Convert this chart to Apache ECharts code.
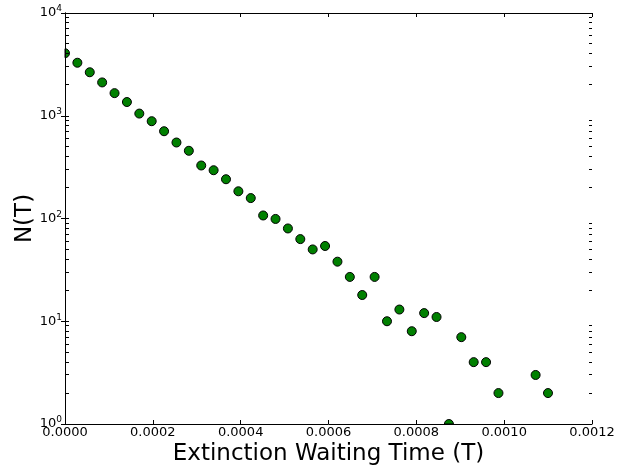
<!DOCTYPE html>
<html>
<head>
<meta charset="utf-8">
<script src="https://cdn.jsdelivr.net/npm/echarts@6/dist/echarts.min.js"></script>
<style>html,body{margin:0;padding:0;background:#fff}#c{width:618px;height:467px}</style>
</head>
<body>
<div id="c"></div>
<script>
// Extinction waiting times (T) and counts N(T)
var times = [0, 0.0000282, 0.0000564, 0.0000846, 0.0001128, 0.000141, 0.0001692, 0.0001974, 0.0002256, 0.0002538,
  0.000282, 0.0003102, 0.0003384, 0.0003666, 0.0003948, 0.000423, 0.0004512, 0.0004794, 0.0005076, 0.0005358,
  0.000564, 0.0005922, 0.0006204, 0.0006486, 0.0006768, 0.000705, 0.0007332, 0.0007614, 0.0007896, 0.0008178,
  0.000846, 0.0008742, 0.0009024, 0.0009306, 0.0009588, 0.000987, 0.0010716, 0.0010998];
var counts = [4060, 3280, 2650, 2110, 1660, 1360, 1050, 885, 707, 549,
  456, 328, 295, 241, 184, 158, 107, 99, 80, 63,
  50, 54, 38, 27, 18, 27, 10, 13, 8, 12,
  11, 1, 7, 4, 4, 2, 3, 2];
var xTicks = [0, 0.0002, 0.0004, 0.0006, 0.0008, 0.0010, 0.0012];
var yDecades = [1, 10, 100, 1000, 10000];

var FONT = 'DejaVu Sans';
var points = times.map(function (t, i) { return [t, counts[i]]; });
var minorVals = [];
for (var k = 0; k < 4; k++) for (var m = 2; m < 10; m++) minorVals.push([0, m * Math.pow(10, k)]);

var chart = echarts.init(document.getElementById('c'));
var tickStyle = { show: true, inside: true, length: 4, lineStyle: { color: '#000', width: 1 } };
chart.setOption({
  animation: false,
  grid: { left: 65, right: 26, top: 13, bottom: 43, containLabel: false, outerBoundsMode: 'none' },
  xAxis: [{
    type: 'value', min: 0, max: 0.0012, interval: 0.0002, position: 'bottom', z: 10,
    name: 'Extinction Waiting Time (T)', nameLocation: 'middle', nameGap: 19, nameMoveOverlap: false,
    nameTextStyle: { fontFamily: FONT, fontSize: 23, color: '#000' },
    axisLine: { show: true, lineStyle: { color: '#000', width: 1 } },
    axisTick: tickStyle,
    axisLabel: { fontFamily: FONT, fontSize: 13, color: '#000', margin: 2,
      formatter: function (v) { return v.toFixed(4); } },
    splitLine: { show: false }
  }, {
    type: 'value', min: 0, max: 0.0012, interval: 0.0002, position: 'top', z: 10,
    axisLine: { show: true, lineStyle: { color: '#000', width: 1 } },
    axisTick: tickStyle, axisLabel: { show: false }, splitLine: { show: false }
  }],
  yAxis: [{
    type: 'log', logBase: 10, min: 1, max: 10000, position: 'left', z: 10,
    name: 'N(T)', nameLocation: 'middle', nameGap: 28, nameMoveOverlap: false,
    nameTextStyle: { fontFamily: FONT, fontSize: 23, color: '#000' },
    axisLine: { show: true, lineStyle: { color: '#000', width: 1 } },
    axisTick: tickStyle,
    axisLabel: { margin: 3, fontFamily: FONT,
      formatter: function (v) { return '{b|10}{s|' + Math.round(Math.log10(v)) + '}'; },
      rich: {
        b: { fontFamily: FONT, fontSize: 13, color: '#000' },
        s: { fontFamily: FONT, fontSize: 9, color: '#000', padding: [0, 0, 8, 0] }
      } },
    splitLine: { show: false }
  }, {
    type: 'log', logBase: 10, min: 1, max: 10000, position: 'right', z: 10,
    axisLine: { show: true, lineStyle: { color: '#000', width: 1 } },
    axisTick: tickStyle, axisLabel: { show: false }, splitLine: { show: false }
  }, {
    type: 'log', logBase: 10, min: 1, max: 10000, position: 'left', offset: 0, z: 10,
    axisLine: { show: false },
    axisTick: { show: true, inside: true, length: 3, lineStyle: { color: '#000', width: 1 } },
    axisLabel: { show: false }, splitLine: { show: false }
  }],
  series: [{
    type: 'custom', clip: false, silent: true, z: 12,
    data: minorVals,
    renderItem: function (params, api) {
      var cs = params.coordSys;
      var y = Math.floor(api.coord([0, api.value(1)])[1]);
      var xl = Math.round(cs.x);
      var xr = Math.round(cs.x + cs.width);
      return { type: 'group', children: [
        { type: 'rect', shape: { x: xl + 1, y: y, width: 3, height: 1 }, style: { fill: '#000' } },
        { type: 'rect', shape: { x: xr - 3, y: y, width: 3, height: 1 }, style: { fill: '#000' } }
      ] };
    }
  }, {
    type: 'custom', clip: false, z: 2,
    data: points,
    renderItem: function (params, api) {
      var cs = params.coordSys;
      var p = api.coord([api.value(0), api.value(1)]);
      var style = { fill: '#008000', stroke: '#000', lineWidth: 1 };
      var r = 4.5;
      // half markers where the centre sits on the axes box edge (clipped as in the original)
      if (Math.abs(p[0] - cs.x) < 1) {
        return { type: 'sector', shape: { cx: p[0], cy: p[1], r0: 0, r: r,
          startAngle: -Math.PI / 2, endAngle: Math.PI / 2, clockwise: true }, style: style };
      }
      if (Math.abs(p[1] - (cs.y + cs.height)) < 1) {
        return { type: 'sector', shape: { cx: p[0], cy: p[1], r0: 0, r: r,
          startAngle: Math.PI, endAngle: 2 * Math.PI, clockwise: true }, style: style };
      }
      return { type: 'circle', shape: { cx: p[0], cy: p[1], r: r }, style: style };
    }
  }]
});
</script>
</body>
</html>
